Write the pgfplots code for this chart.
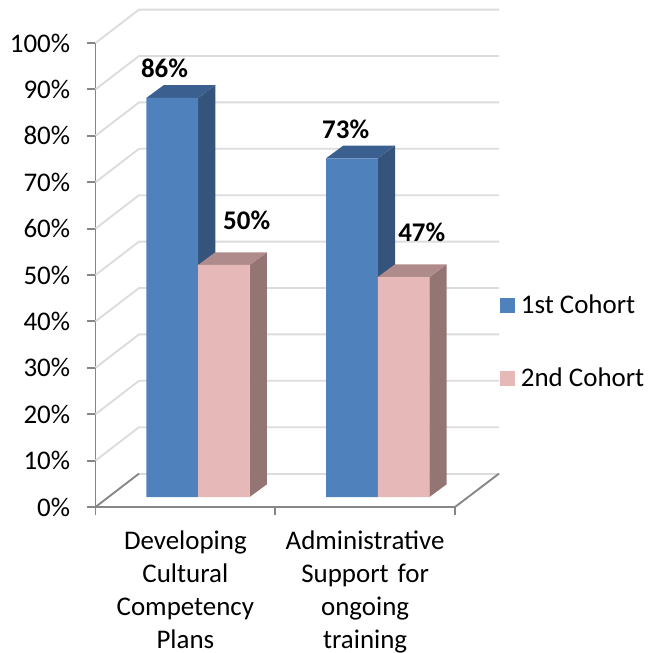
\documentclass[border=0pt]{standalone}
\usepackage{fontspec}
\setmainfont{Carlito}
\usepackage{pgfplots}
\pgfplotsset{compat=1.18}
\definecolor{blueF}{HTML}{4F81BD}
\definecolor{blueS}{HTML}{34547B}
\definecolor{blueT}{HTML}{3B608F}
\definecolor{pinkF}{HTML}{E6B9B8}
\definecolor{pinkS}{HTML}{937574}
\definecolor{pinkT}{HTML}{AF8C8B}
\definecolor{axisgray}{HTML}{868686}
\definecolor{wallgray}{HTML}{DCDCDC}
\newcommand{\lab}{\fontsize{20.2}{24.75}\selectfont}
\pgfplotsset{
  floorshift/.style={xshift=9.47pt,yshift=7.5pt},
  face/.style={floorshift,draw=none,fill=#1,forget plot},
}
\begin{document}
\begin{tikzpicture}
\path[use as bounding box] (-71.625pt,-109.5pt) rectangle (415.125pt,380.25pt);
\begin{axis}[
  scale only axis,
  width=269.625pt, height=348pt,
  xmin=0, xmax=2, ymin=0, ymax=100,
  axis x line=bottom, axis y line=left,
  axis line style={-,draw=axisgray,line width=1.4pt},
  tick style={draw=axisgray,line width=1.4pt},
  tick align=outside, major tick length=6pt,
  ytick={0,10,...,100},
  yticklabel={\pgfmathprintnumber{\tick}\%},
  y tick label style={/pgf/number format/assume math mode=true,font=\lab,xshift=-9.5pt},
  xtick={0,1,2}, xticklabels={,,},
  extra x ticks={0.5,1.5},
  extra x tick labels={{Developing\\Cultural\\Competency\\Plans},{Administrative\\Support for\\ongoing\\training}},
  extra x tick style={major tick length=0pt,
    x tick label style={font=\lab,align=center,text width=127pt,yshift=-14pt}},
  unbounded coords=jump,
  clip=false,
  legend style={at={(axis cs:2.25,45.7)},anchor=north west,draw=none,fill=none,
    inner sep=0pt,font=\lab,row sep=39pt,column sep=4.3pt,
    nodes={inner sep=0pt,anchor=west}},
  legend cell align=left,
]
% side and back walls
\addplot[forget plot,draw=wallgray,line width=1.4pt] coordinates {
  (0,10)(0.242,17.2)(2.245,17.2)(nan,nan)
  (0,20)(0.242,27.2)(2.245,27.2)(nan,nan)
  (0,30)(0.242,37.2)(2.245,37.2)(nan,nan)
  (0,40)(0.242,47.2)(2.245,47.2)(nan,nan)
  (0,50)(0.242,57.2)(2.245,57.2)(nan,nan)
  (0,60)(0.242,67.2)(2.245,67.2)(nan,nan)
  (0,70)(0.242,77.2)(2.245,77.2)(nan,nan)
  (0,80)(0.242,87.2)(2.245,87.2)(nan,nan)
  (0,90)(0.242,97.2)(2.245,97.2)(nan,nan)
  (0,100)(0.242,107.2)(2.245,107.2)
};
\addplot[forget plot,draw=wallgray,line width=1.4pt] coordinates {(0.242,7.2)(2.245,7.2)};
\addplot[forget plot,draw=axisgray,line width=1.4pt] coordinates {(0,0)(0.242,7.2)};
\addplot[forget plot,draw=axisgray,line width=1.4pt] coordinates {(2,0)(2.245,7.2)};
% 1st cohort
\addplot[face=blueS] coordinates {(0.5,0)(0.596,2.74)(0.596,88.74)(0.5,86)} -- cycle;
\addplot[face=blueT] coordinates {(0.2125,86)(0.5,86)(0.596,88.74)(0.3085,88.74)} -- cycle;
\addplot[face=blueS] coordinates {(1.5,0)(1.596,2.74)(1.596,75.74)(1.5,73)} -- cycle;
\addplot[face=blueT] coordinates {(1.2125,73)(1.5,73)(1.596,75.74)(1.3085,75.74)} -- cycle;
\addplot[ybar,floorshift,bar width=0.2875,bar shift=-0.14375,draw=none,fill=blueF,
  legend image code/.code={\fill[blueF] (0pt,-13.1pt) rectangle (11.25pt,-1.9pt);}]
  coordinates {(0.5,86)(1.5,73)};
\addlegendentry{1st Cohort}
% 2nd cohort
\addplot[face=pinkS] coordinates {(0.7875,0)(0.8835,2.74)(0.8835,52.74)(0.7875,50)} -- cycle;
\addplot[face=pinkT] coordinates {(0.5,50)(0.7875,50)(0.8835,52.74)(0.596,52.74)} -- cycle;
\addplot[face=pinkS] coordinates {(1.7875,0)(1.8835,2.74)(1.8835,50.14)(1.7875,47.4)} -- cycle;
\addplot[face=pinkT] coordinates {(1.5,47.4)(1.7875,47.4)(1.8835,50.14)(1.596,50.14)} -- cycle;
\addplot[ybar,floorshift,bar width=0.2875,bar shift=0.14375,draw=none,fill=pinkF,
  legend image code/.code={\fill[pinkF] (0pt,-13.1pt) rectangle (11.25pt,-1.9pt);}]
  coordinates {(0.5,50)(1.5,47.4)};
\addlegendentry{2nd Cohort}
% data labels
\node[font=\lab\bfseries] at (axis cs:0.384,94.6) {86\%};
\node[font=\lab\bfseries] at (axis cs:1.392,81.5) {73\%};
\node[font=\lab\bfseries] at (axis cs:0.841,61.85) {50\%};
\node[font=\lab\bfseries] at (axis cs:1.815,59.3) {47\%};
\end{axis}
\end{tikzpicture}
\end{document}
